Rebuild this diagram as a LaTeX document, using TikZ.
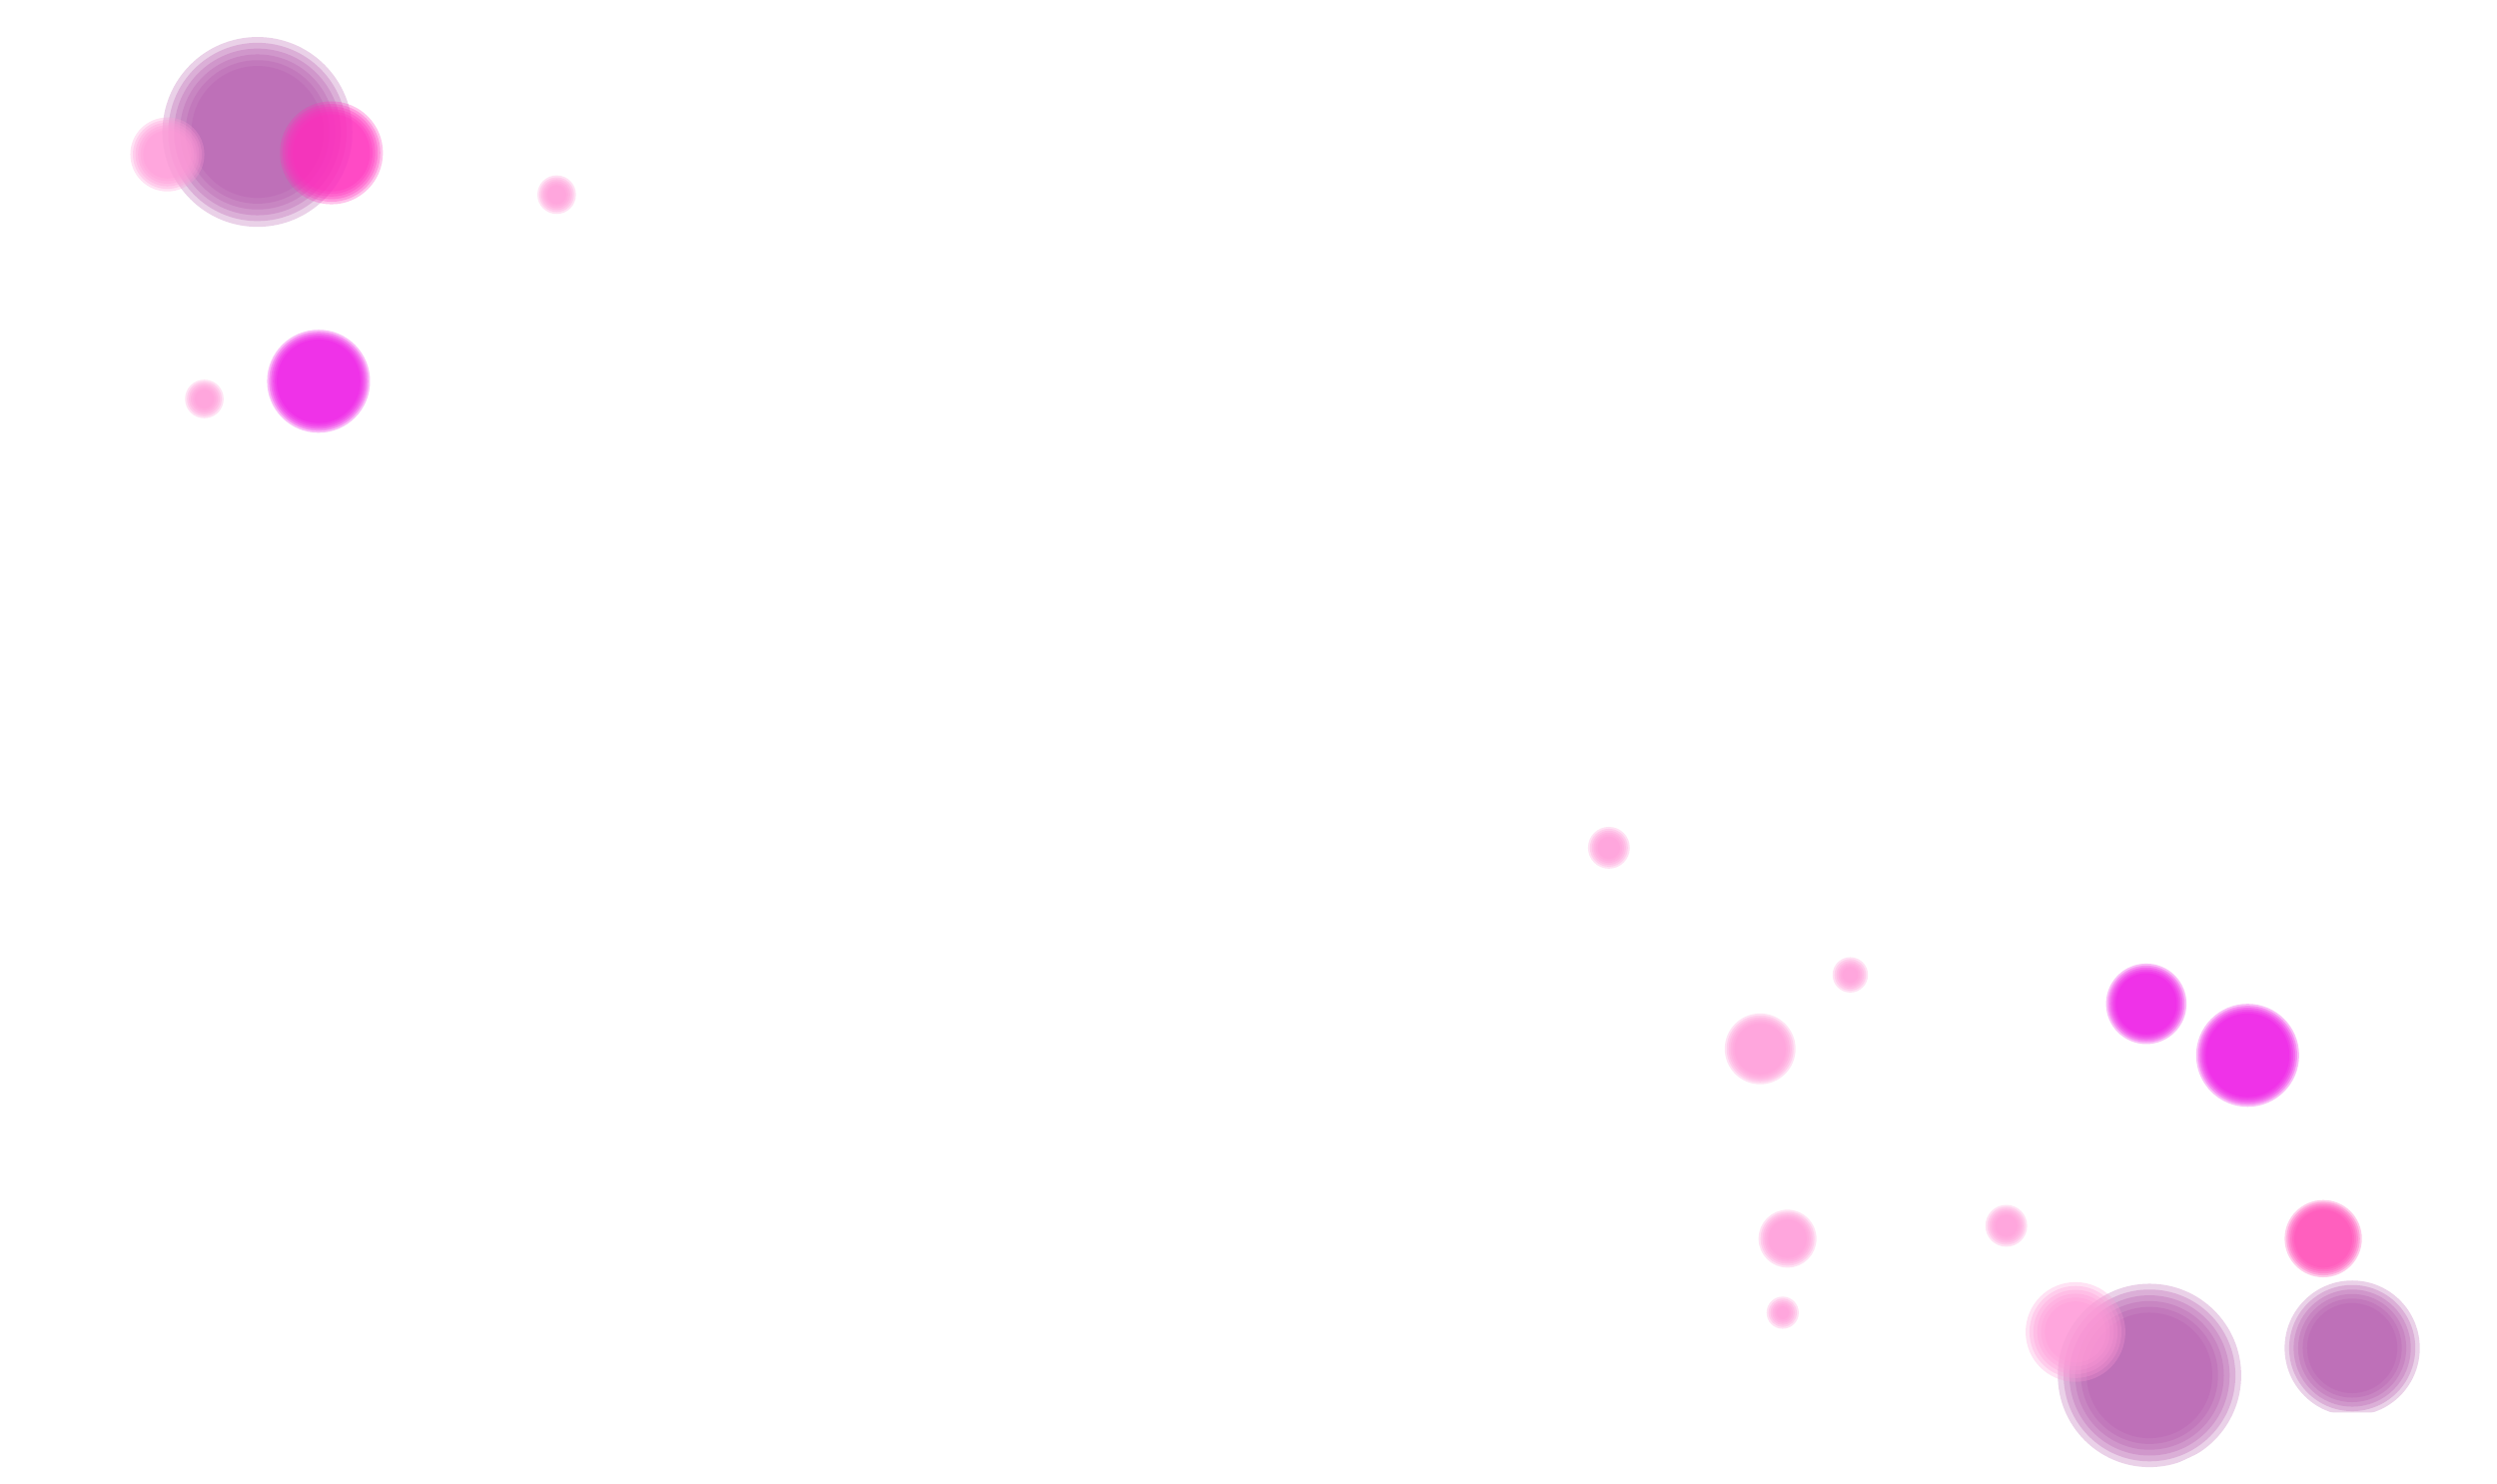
\documentclass[tikz,border=0pt]{standalone}
\definecolor{plum}{HTML}{B65AAE}
\definecolor{blush}{HTML}{FF9AD8}
\definecolor{rose}{HTML}{FF2EBE}
\definecolor{hotrose}{HTML}{FF46B6}
\definecolor{fuchsia}{HTML}{EE12E6}
% soft dot: x, y, radius, colour, blur
\newcommand{\softdot}[5]{%
  \foreach \k in {0,...,5}
    \fill[#4, fill opacity=0.28] (#1,#2) circle ({#3+#5-\k*#5/2.5});
}
\begin{document}
\begin{tikzpicture}[x=1pt, y=-1pt]
  \useasboundingbox[fill=white] (0,0) rectangle (1552,922);
  % upper left group
  \softdot{160}{82}{50}{plum}{9}
  \softdot{104}{96}{19}{blush}{4}
  \softdot{206}{95}{28}{rose}{4}
  \softdot{346}{121}{9}{blush}{3}
  \softdot{127}{248}{9}{blush}{3}
  \softdot{198}{237}{29}{fuchsia}{3}
  % lower right group
  \softdot{1000}{527}{10}{blush}{3}
  \softdot{1150}{606}{8}{blush}{3}
  \softdot{1094}{652}{19}{blush}{3}
  \softdot{1334}{624}{22}{fuchsia}{3}
  \softdot{1397}{656}{29}{fuchsia}{3}
  \softdot{1111}{770}{15}{blush}{3}
  \softdot{1108}{816}{7}{blush}{3}
  \softdot{1247}{762}{10}{blush}{3}
  \softdot{1444}{770}{21}{hotrose}{3}
  \softdot{1336}{855}{48}{plum}{9}
  \softdot{1290}{828}{25}{blush}{6}
  \softdot{1462}{838}{35}{plum}{7}
  \fill[white] (1300,935) -- (1420,878) -- (1552,878) -- (1552,935) -- cycle;
\end{tikzpicture}
\end{document}
